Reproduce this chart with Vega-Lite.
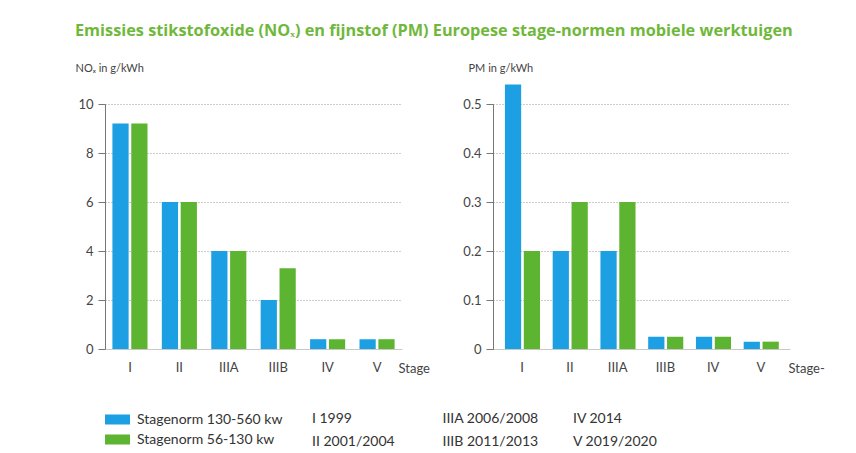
{
  "$schema": "https://vega.github.io/schema/vega-lite/v6.json",
  "background": "white",
  "autosize": {"type": "pad"},
  "padding": {"left": 75, "top": 22, "right": 10, "bottom": 2},
  "title": {
    "text": "Emissies stikstofoxide (NOₓ) en fijnstof (PM) Europese stage-normen mobiele werktuigen",
    "anchor": "start",
    "frame": "bounds",
    "color": "#6fb83c",
    "fontSize": 16.3,
    "fontWeight": "bold",
    "font": "Open Sans",
    "offset": 23
  },
  "datasets": {
    "bars": [
      {"panel": "NOx", "stage": "I", "series": "Stagenorm 130-560 kw", "value": 9.2},
      {"panel": "NOx", "stage": "I", "series": "Stagenorm 56-130 kw", "value": 9.2},
      {"panel": "NOx", "stage": "II", "series": "Stagenorm 130-560 kw", "value": 6},
      {"panel": "NOx", "stage": "II", "series": "Stagenorm 56-130 kw", "value": 6},
      {"panel": "NOx", "stage": "IIIA", "series": "Stagenorm 130-560 kw", "value": 4},
      {"panel": "NOx", "stage": "IIIA", "series": "Stagenorm 56-130 kw", "value": 4},
      {"panel": "NOx", "stage": "IIIB", "series": "Stagenorm 130-560 kw", "value": 2},
      {"panel": "NOx", "stage": "IIIB", "series": "Stagenorm 56-130 kw", "value": 3.3},
      {"panel": "NOx", "stage": "IV", "series": "Stagenorm 130-560 kw", "value": 0.4},
      {"panel": "NOx", "stage": "IV", "series": "Stagenorm 56-130 kw", "value": 0.4},
      {"panel": "NOx", "stage": "V", "series": "Stagenorm 130-560 kw", "value": 0.4},
      {"panel": "NOx", "stage": "V", "series": "Stagenorm 56-130 kw", "value": 0.4},
      {"panel": "PM", "stage": "I", "series": "Stagenorm 130-560 kw", "value": 0.54},
      {"panel": "PM", "stage": "I", "series": "Stagenorm 56-130 kw", "value": 0.2},
      {"panel": "PM", "stage": "II", "series": "Stagenorm 130-560 kw", "value": 0.2},
      {"panel": "PM", "stage": "II", "series": "Stagenorm 56-130 kw", "value": 0.3},
      {"panel": "PM", "stage": "IIIA", "series": "Stagenorm 130-560 kw", "value": 0.2},
      {"panel": "PM", "stage": "IIIA", "series": "Stagenorm 56-130 kw", "value": 0.3},
      {"panel": "PM", "stage": "IIIB", "series": "Stagenorm 130-560 kw", "value": 0.025},
      {"panel": "PM", "stage": "IIIB", "series": "Stagenorm 56-130 kw", "value": 0.025},
      {"panel": "PM", "stage": "IV", "series": "Stagenorm 130-560 kw", "value": 0.025},
      {"panel": "PM", "stage": "IV", "series": "Stagenorm 56-130 kw", "value": 0.025},
      {"panel": "PM", "stage": "V", "series": "Stagenorm 130-560 kw", "value": 0.015},
      {"panel": "PM", "stage": "V", "series": "Stagenorm 56-130 kw", "value": 0.015}
    ],
    "years": [
      {"col": "c1", "row": "r1", "label": "I  1999"},
      {"col": "c1", "row": "r2", "label": "II  2001/2004"},
      {"col": "c2", "row": "r1", "label": "IIIA  2006/2008"},
      {"col": "c2", "row": "r2", "label": "IIIB  2011/2013"},
      {"col": "c3", "row": "r1", "label": "IV  2014"},
      {"col": "c3", "row": "r2", "label": "V  2019/2020"}
    ]
  },
  "spacing": 32,
  "vconcat": [
    {
      "bounds": "flush",
      "spacing": 91,
      "hconcat": [
        {
          "width": 297,
          "height": 245,
          "data": {"name": "bars"},
          "transform": [{"filter": "datum.panel === 'NOx'"}],
          "mark": {"type": "bar"},
          "encoding": {
            "x": {
              "field": "stage", "type": "nominal",
              "sort": ["I", "II", "IIIA", "IIIB", "IV", "V"],
              "scale": {"paddingInner": 0.29, "paddingOuter": 0.15},
              "axis": {"title": "Stage", "titleX": 293, "titleY": 19, "titleAlign": "left", "titleBaseline": "middle"}
            },
            "xOffset": {
              "field": "series", "type": "nominal",
              "sort": ["Stagenorm 130-560 kw", "Stagenorm 56-130 kw"],
              "scale": {"paddingInner": 0.14}
            },
            "y": {
              "field": "value", "type": "quantitative",
              "scale": {"domain": [0, 10]},
              "axis": {"title": "NOₓ in g/kWh", "values": [0, 2, 4, 6, 8, 10], "titleX": -30, "titleY": -36}
            },
            "color": {
              "field": "series", "type": "nominal",
              "scale": {"domain": ["Stagenorm 130-560 kw", "Stagenorm 56-130 kw"], "range": ["#1c9fe3", "#5cb431"]},
              "legend": {
                "orient": "none", "legendX": 0, "legendY": 303, "title": null, "direction": "vertical"
              }
            }
          }
        },
        {
          "width": 297,
          "height": 245,
          "data": {"name": "bars"},
          "transform": [{"filter": "datum.panel === 'PM'"}],
          "mark": {"type": "bar"},
          "encoding": {
            "x": {
              "field": "stage", "type": "nominal",
              "sort": ["I", "II", "IIIA", "IIIB", "IV", "V"],
              "scale": {"paddingInner": 0.28, "paddingOuter": 0.25},
              "axis": {"title": "Stage-", "titleX": 295, "titleY": 19, "titleAlign": "left", "titleBaseline": "middle"}
            },
            "xOffset": {
              "field": "series", "type": "nominal",
              "sort": ["Stagenorm 130-560 kw", "Stagenorm 56-130 kw"],
              "scale": {"paddingInner": 0.12}
            },
            "y": {
              "field": "value", "type": "quantitative",
              "scale": {"domain": [0, 0.5]},
              "axis": {"title": "PM in g/kWh", "values": [0, 0.1, 0.2, 0.3, 0.4, 0.5], "format": ".1~f", "titleX": -25, "titleY": -36}
            },
            "color": {
              "field": "series", "type": "nominal",
              "scale": {"domain": ["Stagenorm 130-560 kw", "Stagenorm 56-130 kw"], "range": ["#1c9fe3", "#5cb431"]},
              "legend": null
            }
          }
        }
      ]
    },
    {
      "width": 600,
      "height": 46,
      "data": {"name": "years"},
      "mark": {"type": "text", "align": "left", "baseline": "middle", "fontSize": 14, "color": "#333", "font": "Lato"},
      "encoding": {
        "x": {"field": "col", "type": "ordinal", "scale": {"type": "point", "padding": 0, "range": [207, 468]}, "axis": null},
        "y": {"field": "row", "type": "ordinal", "scale": {"type": "point", "padding": 0.5}, "axis": null},
        "text": {"field": "label"}
      }
    }
  ],
  "config": {
    "view": {"stroke": null},
    "font": "Lato",
    "bar": {"clip": false},
    "axisX": {
      "labelAngle": 0, "ticks": false, "tickSize": 0, "labelPadding": 12, "grid": false,
      "domainColor": "#c8c8c8", "labelColor": "#444", "labelFontSize": 13,
      "titleColor": "#444", "titleFontSize": 13, "titleFontWeight": "normal"
    },
    "axisY": {
      "grid": true, "gridColor": "#9a9a9a", "gridDash": [1, 2], "gridWidth": 1,
      "tickSize": 7, "tickColor": "#777", "domainColor": "#777", "labelPadding": 5,
      "labelColor": "#444", "labelFontSize": 13,
      "titleAngle": 0, "titleAlign": "left", "titleBaseline": "middle",
      "titleColor": "#444", "titleFontSize": 11, "titleFontWeight": "normal"
    },
    "legend": {
      "symbolType": "M-1,-0.4H1V0.4H-1Z", "symbolSize": 625, "symbolStrokeWidth": 0,
      "labelFontSize": 14, "labelColor": "#333", "rowPadding": -2, "labelOffset": 7, "labelFont": "Lato"
    }
  }
}
